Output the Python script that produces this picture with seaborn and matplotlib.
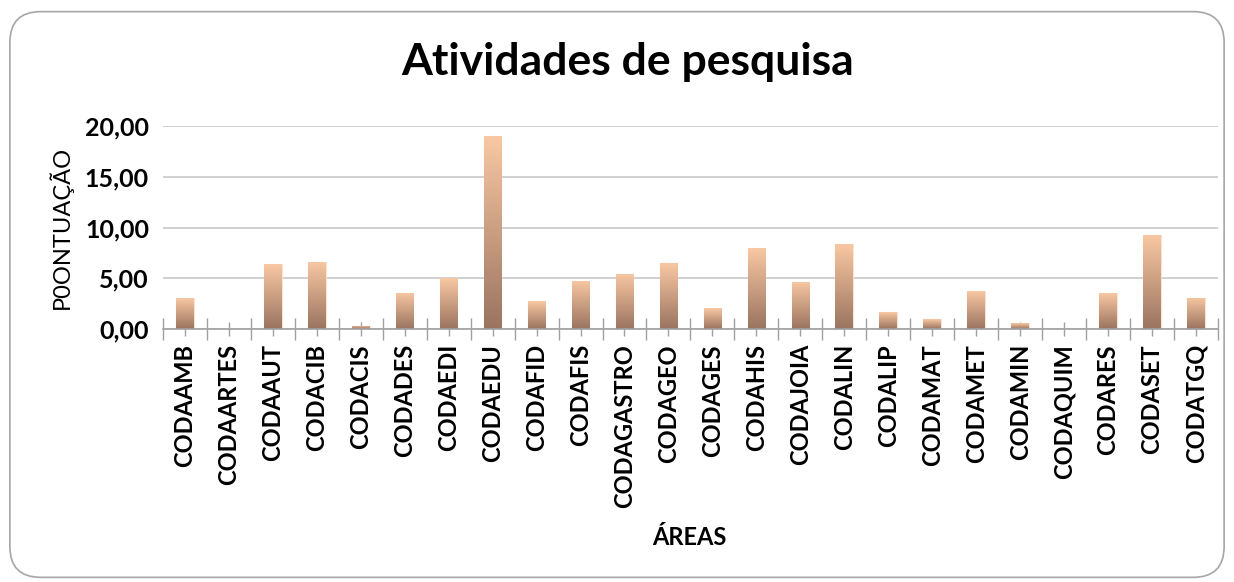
import numpy as np
import pandas as pd
import seaborn as sns
import matplotlib.pyplot as plt
from matplotlib.patches import FancyBboxPatch
from matplotlib.colors import LinearSegmentedColormap
from matplotlib.ticker import FuncFormatter, FixedLocator

areas = ["CODAAMB", "CODAARTES", "CODAAUT", "CODACIB", "CODACIS", "CODADES",
         "CODAEDI", "CODAEDU", "CODAFID", "CODAFIS", "CODAGASTRO", "CODAGEO",
         "CODAGES", "CODAHIS", "CODAJOIA", "CODALIN", "CODALIP", "CODAMAT",
         "CODAMET", "CODAMIN", "CODAQUIM", "CODARES", "CODASET", "CODATGQ"]
pontuacao = [3.05, 0.0, 6.37, 6.64, 0.30, 3.58,
             5.02, 19.00, 2.70, 4.77, 5.46, 6.47,
             2.04, 7.95, 4.67, 8.34, 1.65, 0.96,
             3.71, 0.59, 0.0, 3.49, 9.26, 3.09]
y_ticks = [0, 5, 10, 15, 20]

df = pd.DataFrame({"Área": areas, "Pontuação": pontuacao})

sns.set_style("white")
plt.rcParams["font.family"] = ["Lato", "DejaVu Sans"]
plt.rcParams["text.color"] = "black"
plt.rcParams["xtick.color"] = "black"
plt.rcParams["ytick.color"] = "black"

fig = plt.figure(figsize=(12.34, 5.82), dpi=100)
ax = fig.add_axes([0.132, 0.435, 0.855, 0.348])

sns.barplot(data=df, x="Área", y="Pontuação", color="#e0a882", width=0.4, ax=ax)

# gradient fill inside each bar, light on top, dark at bottom
grad = LinearSegmentedColormap.from_list("bar", ["#9a7460", "#f9c8a3"])
g = np.linspace(0, 1, 256).reshape(-1, 1)
for p in ax.patches:
    x0, w, h = p.get_x(), p.get_width(), p.get_height()
    if h <= 0:
        continue
    p.set_facecolor("none")
    p.set_edgecolor("#fbe3d2")
    p.set_linewidth(0.8)
    im = ax.imshow(g, cmap=grad, origin="lower", aspect="auto",
                   extent=[x0, x0 + w, 0, h], zorder=2)
    im.set_clip_path(p)

ax.set_xlim(-0.5, len(areas) - 0.5)
ax.set_ylim(0, 20)
ax.set_yticks(y_ticks)
ax.yaxis.set_major_formatter(FuncFormatter(lambda v, _: f"{v:.2f}".replace(".", ",")))
ax.grid(axis="y", color="#c8c8c8", linewidth=1.2)
ax.set_axisbelow(True)
for s in ["top", "right", "left"]:
    ax.spines[s].set_visible(False)
ax.spines["bottom"].set_color("#a0a0a0")
ax.spines["bottom"].set_linewidth(1.2)

ax.xaxis.set_minor_locator(FixedLocator(np.arange(-0.5, len(areas), 1)))
ax.tick_params(axis="x", which="both", bottom=True)
ax.tick_params(axis="x", which="major", direction="inout", length=10, width=1,
               color="#a0a0a0", labelcolor="black", labelsize=17, rotation=90, pad=6)
ax.tick_params(axis="x", which="minor", direction="inout", length=16, width=1,
               color="#a0a0a0")
ax.tick_params(axis="y", length=0, labelsize=18, pad=10, labelcolor="black")
for lbl in ax.get_xticklabels() + ax.get_yticklabels():
    lbl.set_fontweight("bold")

ax.set_xlabel("")
ax.set_ylabel("")
fig.text(0.559, 0.077, "ÁREAS", ha="center", va="center", fontsize=17, fontweight="bold")
fig.text(0.049, 0.61, "P0ONTUAÇÃO", ha="center", va="center", rotation=90, fontsize=17)
fig.text(0.509, 0.893, "Atividades de pesquisa", ha="center", va="center",
         fontsize=32, fontweight="bold")

frame = FancyBboxPatch((0.008, 0.008), 0.984, 0.972, boxstyle="round,pad=0,rounding_size=0.025",
                       transform=fig.transFigure, facecolor="none", edgecolor="#a6a6a6",
                       linewidth=1.2, mutation_aspect=1234 / 582)
fig.patches.append(frame)

fig.savefig("out.png", dpi=100)
